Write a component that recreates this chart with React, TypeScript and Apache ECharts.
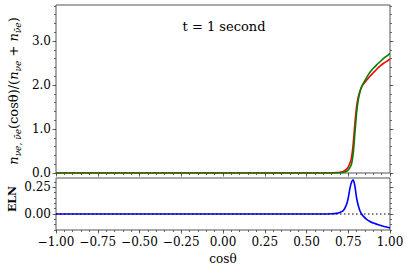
import React, { useEffect, useRef } from "react";
import * as echarts from "echarts";

// ---- data ----
const cosTheta = [-1.0, -0.5, 0.0, 0.5, 0.6, 0.65, 0.68, 0.7, 0.72, 0.74, 0.75, 0.76, 0.77, 0.78, 0.79, 0.8, 0.81, 0.82, 0.83, 0.84, 0.86, 0.88, 0.9, 0.92, 0.94, 0.96, 0.98, 1.0];
const redVals = [0, 0, 0, 0, 0, 0.002, 0.008, 0.015, 0.035, 0.09, 0.14, 0.22, 0.36, 0.68, 1.14, 1.51, 1.73, 1.86, 1.96, 2.02, 2.11, 2.2, 2.28, 2.36, 2.43, 2.49, 2.54, 2.59];
const greenVals = [0, 0, 0, 0, 0, 0.001, 0.004, 0.007, 0.012, 0.04, 0.07, 0.12, 0.21, 0.45, 0.91, 1.36, 1.66, 1.84, 1.96, 2.04, 2.17, 2.29, 2.38, 2.46, 2.53, 2.6, 2.66, 2.72];
const elnVals = [0, 0, 0, 0, 0, 0.002, 0.006, 0.015, 0.03, 0.09, 0.15, 0.24, 0.3, 0.32, 0.26, 0.15, 0.08, 0.03, 0.0, -0.02, -0.05, -0.07, -0.085, -0.095, -0.105, -0.115, -0.122, -0.13];

const xTicks = [-1, -0.75, -0.5, -0.25, 0, 0.25, 0.5, 0.75, 1];
const xTickLabels = ["−1.00", "−0.75", "−0.50", "−0.25", "0.00", "0.25", "0.50", "0.75", "1.00"];
const yTopTicks = [0, 1, 2, 3];
const yTopTickLabels = ["0.0", "1.0", "2.0", "3.0"];
const yBotTicks = [0, 0.25];
const yBotTickLabels = ["0.00", "0.25"];

const titleText = "t = 1 second";
const xName = "cosθ";
const elnName = "ELN";

// tick helper (positions only, not data)
function steps(from: number, to: number, step: number) {
  const out: number[] = [];
  const n = Math.round((to - from) / step);
  for (let i = 0; i <= n; i++) out.push(Math.round((from + i * step) * 1e6) / 1e6);
  return out;
}
const xMinor = steps(-1, 1, 0.05);
const yTopMinor = steps(0, 3.8, 0.2);
const yBotMinor = steps(-0.15, 0.3, 0.05);

const FONT = "'DejaVu Serif', serif";
const AX = "#444";

export default function App() {
  const ref = useRef<HTMLDivElement>(null);
  useEffect(() => {
    const chart = echarts.init(ref.current!, null, { renderer: "svg" });

    const xRange = { min: -1, max: 1 };
    const yTop = { min: 0, max: 3.82 };
    const yBot = { min: -0.15, max: 0.3375 };

    const mkAxis = (
      gridIndex: number,
      position: string,
      range: any,
      ticks: number[],
      len: number,
      labels?: { values: number[]; texts: string[]; margin: number }
    ): any => ({
      type: "value",
      gridIndex,
      position,
      min: range.min,
      max: range.max,
      axisLine: { show: false, onZero: false },
      splitLine: { show: false },
      axisTick: { show: true, inside: false, length: len, customValues: ticks, lineStyle: { color: AX, width: 0.8 } },
      axisLabel: labels
        ? {
            show: true,
            customValues: labels.values,
            margin: labels.margin,
            fontFamily: FONT,
            fontSize: 12,
            color: "#000",
            formatter: (v: number) => {
              const i = labels.values.findIndex((t) => Math.abs(t - v) < 1e-6);
              return i >= 0 ? labels.texts[i] : "";
            },
          }
        : { show: false },
    });

    const xAxis = [
      mkAxis(0, "bottom", xRange, xTicks, 3.5),
      mkAxis(0, "bottom", xRange, xMinor, 2),
      mkAxis(1, "bottom", xRange, xTicks, 3.5, { values: xTicks, texts: xTickLabels, margin: 6 }),
      mkAxis(1, "bottom", xRange, xMinor, 2),
    ];
    const yAxis = [
      mkAxis(0, "left", yTop, yTopTicks, 3.5, { values: yTopTicks, texts: yTopTickLabels, margin: 5 }),
      mkAxis(0, "left", yTop, yTopMinor, 2),
      mkAxis(0, "right", yTop, yTopTicks, 3.5),
      mkAxis(0, "right", yTop, yTopMinor, 2),
      mkAxis(1, "left", yBot, yBotTicks, 3.5, { values: yBotTicks, texts: yBotTickLabels, margin: 5 }),
      mkAxis(1, "left", yBot, yBotMinor, 2),
      mkAxis(1, "right", yBot, yBotTicks, 3.5),
      mkAxis(1, "right", yBot, yBotMinor, 2),
    ];

    const pts = (ys: number[]) => cosTheta.map((x, i) => [x, ys[i]]);

    chart.setOption({
      animation: false,
      backgroundColor: "#fff",
      textStyle: { fontFamily: FONT },
      grid: [
        { left: 56, top: 5, width: 334, height: 168, show: true, borderColor: "#555", borderWidth: 1, backgroundColor: "transparent" },
        { left: 56, top: 178, width: 334, height: 52, show: true, borderColor: "#555", borderWidth: 1, backgroundColor: "transparent" },
      ],
      xAxis,
      yAxis,
      series: [
        {
          type: "line", xAxisIndex: 0, yAxisIndex: 0, data: pts(redVals), showSymbol: false, smooth: 0.2,
          lineStyle: { color: "#ff0000", width: 1.6 }, z: 3,
        },
        {
          type: "line", xAxisIndex: 0, yAxisIndex: 0, data: pts(greenVals), showSymbol: false, smooth: 0.2,
          lineStyle: { color: "#008000", width: 1.6 }, z: 4,
        },
        {
          type: "line", xAxisIndex: 2, yAxisIndex: 4, data: pts(elnVals), showSymbol: false, smooth: 0.2,
          lineStyle: { color: "#0000ff", width: 1.6 }, z: 3,
        },
        {
          type: "line", xAxisIndex: 2, yAxisIndex: 4, data: [[-1, 0], [1, 0]], showSymbol: false,
          lineStyle: { color: "#000", width: 1.2, type: [1.5, 2.5] }, z: 4,
        },
      ],
      graphic: [
        {
          type: "text", x: 224, y: 26,
          style: { text: titleText, fontFamily: FONT, fontSize: 13, fill: "#000", align: "center", verticalAlign: "middle" },
        },
        {
          type: "text", x: 223, y: 259,
          style: { text: xName, fontFamily: FONT, fontSize: 12, fill: "#000", align: "center", verticalAlign: "middle" },
        },
        {
          type: "text", x: 12, y: 199, rotation: Math.PI / 2,
          style: { text: elnName, fontFamily: FONT, fontSize: 11, fontWeight: "bold", fill: "#000", align: "center", verticalAlign: "middle" },
        },
        {
          type: "text", x: 13, y: 91, rotation: Math.PI / 2,
          style: {
            text: "{n|n}{s|νe, ν̄e}{m|(cosθ)/(}{n|n}{s|νe}{m| + }{n|n}{s|ν̄e}{m|)}",
            align: "center",
            verticalAlign: "middle",
            fill: "#000",
            rich: {
              n: { fontFamily: FONT, fontStyle: "italic", fontSize: 13, lineHeight: 18, verticalAlign: "middle", fill: "#000" },
              m: { fontFamily: FONT, fontSize: 13, lineHeight: 18, verticalAlign: "middle", fill: "#000" },
              s: { fontFamily: FONT, fontStyle: "italic", fontSize: 9, lineHeight: 10, verticalAlign: "bottom", fill: "#000" },
            },
          },
        },
      ],
    });
    return () => chart.dispose();
  }, []);
  return <div ref={ref} style={{ position: "fixed", left: 0, top: 0, width: 407, height: 271 }} />;
}
